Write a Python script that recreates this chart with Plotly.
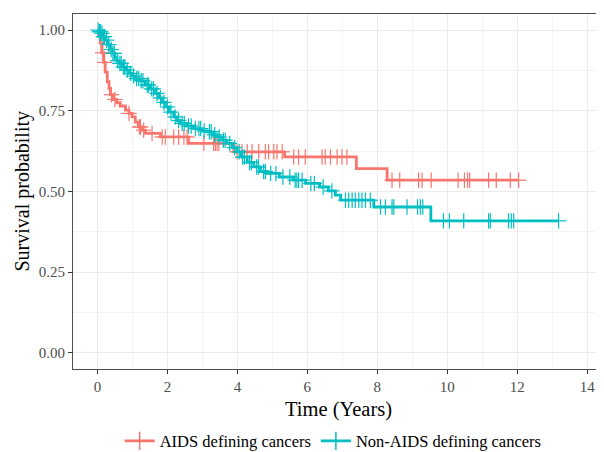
import numpy as np
import plotly.graph_objects as go

# ---- Data ----
group_names = ["AIDS defining cancers", "Non-AIDS defining cancers"]
group_colors = ["#F8766D", "#00BFC4"]

aids_times = [0, 0.04, 0.08, 0.12, 0.18, 0.22, 0.28, 0.33, 0.37, 0.45, 0.55, 0.65,
              0.8, 0.9, 0.99, 1.08, 1.17, 1.27, 1.37, 1.8, 2.6, 3.9, 5.35, 7.4, 8.28, 12.04]
aids_surv = [1.0, 0.985, 0.96, 0.93, 0.90, 0.87, 0.84, 0.82, 0.80, 0.785, 0.775, 0.765,
             0.752, 0.742, 0.731, 0.715, 0.70, 0.69, 0.68, 0.669, 0.649, 0.623, 0.607,
             0.571, 0.535, 0.535]
aids_censor = [0.15, 0.2, 0.4, 0.5, 0.9, 1.2, 1.23, 1.32, 1.56, 1.85, 1.94, 2.18, 2.32,
               2.47, 2.56, 3.04, 3.32, 3.37, 3.42, 3.47, 3.99, 4.13, 4.28, 4.42, 4.61,
               4.8, 4.89, 5.04, 5.13, 5.28, 5.61, 5.75, 5.94, 6.42, 6.51, 6.66, 6.85,
               6.99, 7.13, 8.42, 8.64, 9.18, 9.28, 9.54, 10.31, 10.49, 10.58, 10.64,
               11.18, 11.4, 11.8, 12.04]

non_times = [0, 0.05, 0.1, 0.15, 0.23, 0.3, 0.36, 0.42, 0.5, 0.55, 0.61, 0.7, 0.8, 0.9,
             1.0, 1.09, 1.2, 1.37, 1.5, 1.66, 1.75, 1.85, 1.94, 2.05, 2.18, 2.28, 2.37,
             2.55, 2.75, 3.0, 3.13, 3.3, 3.42, 3.55, 3.7, 3.85, 3.99, 4.1, 4.28, 4.47,
             4.66, 4.85, 5.2, 5.6, 5.95, 6.35, 6.6, 6.8, 6.95, 7.9, 9.53, 13.18]
non_surv = [1.0, 0.995, 0.99, 0.98, 0.969, 0.955, 0.94, 0.928, 0.915, 0.905, 0.897,
            0.886, 0.876, 0.866, 0.858, 0.85, 0.843, 0.83, 0.818, 0.804, 0.79, 0.776,
            0.762, 0.746, 0.731, 0.72, 0.711, 0.703, 0.695, 0.688, 0.685, 0.676, 0.669,
            0.659, 0.649, 0.636, 0.623, 0.607, 0.59, 0.576, 0.562, 0.556, 0.545, 0.535,
            0.525, 0.514, 0.502, 0.489, 0.473, 0.452, 0.409, 0.409]
non_censor = [0.02, 0.06, 0.09, 0.13, 0.17, 0.2, 0.26, 0.32, 0.39, 0.44, 0.48, 0.58,
              0.64, 0.68, 0.74, 0.78, 0.85, 0.95, 1.03, 1.12, 1.18, 1.25, 1.3, 1.42,
              1.46, 1.55, 1.6, 1.7, 1.8, 1.9, 2.0, 2.1, 2.22, 2.32, 2.42, 2.48, 2.6,
              2.68, 2.8, 2.9, 2.95, 3.05, 3.2, 3.25, 3.35, 3.48, 3.6, 3.65, 3.78, 3.92,
              4.05, 4.15, 4.2, 4.35, 4.4, 4.55, 4.6, 4.75, 4.8, 4.95, 5.1, 5.3, 5.5,
              5.65, 5.7, 5.75, 5.85, 6.1, 6.2, 6.45, 6.7, 7.09, 7.18, 7.28, 7.37, 7.47,
              7.56, 7.66, 7.8, 8.09, 8.23, 8.42, 8.47, 8.85, 9.15, 9.23, 9.3, 9.89,
              10.06, 10.47, 11.18, 11.23, 11.75, 11.83, 11.9, 13.18]

x_ticks = [0, 2, 4, 6, 8, 10, 12, 14]
y_ticks = [0.0, 0.25, 0.5, 0.75, 1.0]
x_title = "Time (Years)"
y_title = "Survival probability"


def step_value(times, surv, t):
    idx = np.searchsorted(np.array(times), t, side="right") - 1
    return np.array(surv)[np.clip(idx, 0, len(surv) - 1)]


FONT = "Liberation Serif, Times New Roman, serif"
fig = go.Figure()

groups = [
    (aids_times, aids_surv, aids_censor),
    (non_times, non_surv, non_censor),
]
for (times, surv, cens), name, col in zip(groups, group_names, group_colors):
    fig.add_trace(go.Scatter(
        x=times, y=surv, mode="lines", line=dict(color=col, width=2.8, shape="hv"),
        showlegend=False, hoverinfo="skip"))
    cy = step_value(times, surv, np.array(cens))
    fig.add_trace(go.Scatter(
        x=cens, y=cy, mode="markers",
        marker=dict(symbol="line-ns", size=11, line=dict(color=col, width=1.2)),
        showlegend=False, hoverinfo="skip"))
    fig.add_trace(go.Scatter(
        x=cens, y=cy, mode="markers",
        marker=dict(symbol="line-ew", size=11, line=dict(color=col, width=1.2)),
        showlegend=False, hoverinfo="skip"))
    # legend key
    fig.add_trace(go.Scatter(
        x=[None], y=[None], mode="lines+markers", name=name,
        line=dict(color=col, width=2.8),
        marker=dict(symbol="cross-thin", size=13, line=dict(color=col, width=1.5))))

# the page body adds an 8px offset, so the figure is 8px smaller on each axis
fig.update_layout(
    width=596, height=444,
    margin=dict(l=65, r=0, t=6, b=83, autoexpand=False),
    paper_bgcolor="white", plot_bgcolor="white",
    font=dict(family=FONT, color="#4D4D4D", size=15),
    showlegend=True,
    legend=dict(orientation="h", x=0.49, xanchor="center", y=-0.203, yanchor="middle",
                font=dict(family=FONT, size=16.5, color="black"),
                itemwidth=30, tracegroupgap=0),
    annotations=[
        dict(text=x_title, xref="paper", yref="paper", x=0.5, y=-0.113,
             xanchor="center", yanchor="middle", showarrow=False,
             font=dict(family=FONT, size=20.5, color="black")),
        dict(text=y_title, xref="paper", yref="paper", x=-0.096, y=0.5,
             xanchor="center", yanchor="middle", showarrow=False, textangle=-90,
             font=dict(family=FONT, size=20, color="black")),
    ],
)
fig.update_xaxes(
    range=[-0.7, 14.48], tickvals=x_ticks, ticktext=[str(v) for v in x_ticks],
    automargin=False,
    showgrid=True, gridcolor="#EBEBEB", gridwidth=1.1,
    minor=dict(dtick=1, tick0=0, showgrid=True, gridcolor="#F4F4F4", gridwidth=0.6, ticklen=0),
    showline=True, linecolor="#4D4D4D", linewidth=1, mirror=True,
    ticks="outside", ticklen=4, tickcolor="#333333", tickwidth=1,
    zeroline=False,
    tickfont=dict(family=FONT, size=15, color="#4D4D4D"),
)
fig.update_yaxes(
    range=[-0.05, 1.05], tickvals=y_ticks, ticktext=[f"{v:.2f}" for v in y_ticks],
    automargin=False,
    showgrid=True, gridcolor="#EBEBEB", gridwidth=1.1,
    minor=dict(dtick=0.125, tick0=0, showgrid=True, gridcolor="#F4F4F4", gridwidth=0.6, ticklen=0),
    showline=True, linecolor="#4D4D4D", linewidth=1, mirror=False,
    ticks="outside", ticklen=4, tickcolor="#333333", tickwidth=1,
    zeroline=False,
    tickfont=dict(family=FONT, size=15, color="#4D4D4D"),
)

fig.write_html("out.html")
